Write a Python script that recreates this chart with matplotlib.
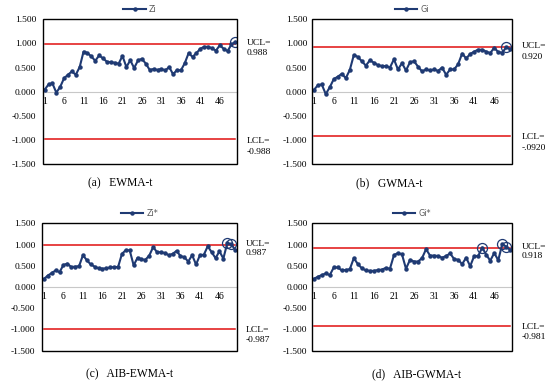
import matplotlib
matplotlib.use("Agg")
import matplotlib.pyplot as plt
from matplotlib.patches import Rectangle

plt.rcParams['axes.unicode_minus'] = False

samples = list(range(1, 51))
xtick_labels = ['1', '6', '11', '16', '21', '26', '31', '36', '41', '46']
ytick_values = [-1.5, -1.0, -0.5, 0.0, 0.5, 1.0, 1.5]
ytick_labels = ['-1.500', '-1.000', '-0.500', '0.000', '0.500', '1.000', '1.500']

zi = [0.04, 0.15, 0.17, -0.02, 0.10, 0.28, 0.35, 0.42, 0.35, 0.51,
      0.83, 0.80, 0.73, 0.64, 0.75, 0.69, 0.62, 0.61, 0.60, 0.58,
      0.74, 0.51, 0.65, 0.49, 0.65, 0.68, 0.58, 0.45, 0.47, 0.45,
      0.47, 0.44, 0.51, 0.36, 0.45, 0.44, 0.59, 0.80, 0.72, 0.80,
      0.89, 0.93, 0.93, 0.90, 0.85, 0.96, 0.89, 0.84, 0.98, 1.03]
gi = [0.03, 0.13, 0.15, -0.05, 0.09, 0.26, 0.31, 0.37, 0.28, 0.45,
      0.76, 0.72, 0.63, 0.54, 0.65, 0.60, 0.55, 0.53, 0.53, 0.50,
      0.67, 0.46, 0.59, 0.44, 0.61, 0.63, 0.52, 0.42, 0.46, 0.44,
      0.46, 0.43, 0.50, 0.35, 0.46, 0.46, 0.57, 0.79, 0.69, 0.78,
      0.83, 0.87, 0.87, 0.83, 0.80, 0.91, 0.82, 0.81, 0.92, 0.88]
zi_star = [0.19, 0.27, 0.33, 0.39, 0.35, 0.52, 0.55, 0.47, 0.48, 0.49,
           0.75, 0.63, 0.53, 0.48, 0.44, 0.43, 0.44, 0.46, 0.47, 0.47,
           0.78, 0.87, 0.86, 0.51, 0.69, 0.65, 0.64, 0.74, 0.94, 0.82,
           0.82, 0.80, 0.75, 0.78, 0.85, 0.73, 0.70, 0.60, 0.75, 0.53,
           0.75, 0.76, 0.96, 0.82, 0.68, 0.84, 0.67, 1.03, 1.01, 0.88]
gi_star = [0.19, 0.24, 0.28, 0.32, 0.28, 0.46, 0.46, 0.39, 0.40, 0.42,
           0.68, 0.54, 0.44, 0.39, 0.38, 0.38, 0.40, 0.41, 0.45, 0.43,
           0.75, 0.80, 0.77, 0.43, 0.64, 0.60, 0.60, 0.68, 0.89, 0.74,
           0.74, 0.73, 0.69, 0.73, 0.79, 0.66, 0.64, 0.54, 0.69, 0.49,
           0.73, 0.73, 0.93, 0.76, 0.62, 0.80, 0.63, 1.01, 0.95, 0.87]

series_names = ['Zi', 'Gi', 'Zi*', 'Gi*']
ucl_values = [0.988, 0.920, 0.987, 0.918]
ucl_texts = ['0.988', '0.920', '0.987', '0.918']
lcl_texts = ['-0.988', '-.0920', '-0.987', '-0.981']
circled = [[50], [49], [48, 49], [43, 48, 49]]
captions = ['(a)   EWMA-t', '(b)   GWMA-t', '(c)   AIB-EWMA-t', '(d)   AIB-GWMA-t']

W, H = 550, 384
fig = plt.figure(figsize=(W / 100, H / 100), dpi=100)
fig.patch.set_facecolor('white')

# axes pixel boxes: left, right, top, bottom
boxes = [(42.7, 237.3, 19.3, 164.0), (311.7, 512.3, 19.3, 164.0),
         (42.0, 237.0, 223.3, 350.7), (311.7, 512.3, 223.3, 350.7)]
ypads = [4.6, 3.2, 4.6, 3.0]
caption_pos = [(88, 183), (356, 183), (86, 374), (372, 374)]

navy = '#1F3A73'
red = '#E01010'
serif = 'Liberation Serif'
tfs = 6.8

all_series = [zi, gi, zi_star, gi_star]

for k in range(4):
    l, r, t, b = boxes[k]
    ax = fig.add_axes([l / W, 1 - b / H, (r - l) / W, (b - t) / H])
    for s in ['top', 'right', 'left']:
        ax.spines[s].set_visible(False)
    ax.spines['bottom'].set_position(('data', 0))
    ax.spines['bottom'].set_color('#C8C8C8')
    ax.spines['bottom'].set_linewidth(0.8)

    vals = all_series[k]
    ax.plot(samples, vals, color=navy, lw=1.5, marker='o', ms=2.2,
            label=series_names[k], zorder=3)
    ucl = ucl_values[k]
    ax.plot([samples[0], samples[-1]], [ucl, ucl], color=red, lw=1.1, zorder=2)
    ax.plot([samples[0], samples[-1]], [-ucl, -ucl], color=red, lw=1.1, zorder=2)
    for c in circled[k]:
        ax.plot([samples[c - 1]], [vals[c - 1]], marker='o', ms=7.2, mfc='none',
                mec=navy, mew=0.9, ls='none', zorder=4)
    ax.set_xlim(0.5, 50.5)
    ax.set_ylim(-1.5, 1.5)
    ax.set_yticks(ytick_values)
    ax.set_yticklabels(ytick_labels, family=serif, fontsize=tfs)
    ax.set_xticks([int(s) for s in xtick_labels])
    ax.set_xticklabels(xtick_labels, family=serif, fontsize=7)
    ax.tick_params(axis='y', length=0, pad=ypads[k])
    ax.tick_params(axis='x', length=0, pad=3.5)
    ax.add_patch(Rectangle((0, 0), 1, 1, transform=ax.transAxes, fill=False,
                           ec='black', lw=1.0, clip_on=False, zorder=5))
    hpx = b - t
    leg = ax.legend(loc='center', bbox_to_anchor=(0.5, 1 + 9.5 / hpx),
                    frameon=False, prop={'family': 'DejaVu Sans', 'size': 5.8},
                    handlelength=2.8, handletextpad=0.4, borderpad=0, borderaxespad=0)
    for txt in leg.get_texts():
        txt.set_color('#595959')
    # UCL / LCL labels
    tr = ax.get_yaxis_transform()
    lsp = 7.8 if k < 2 else 7.0
    ax.annotate('UCL=', xy=(1, ucl), xycoords=tr, xytext=(6.5, 1), textcoords='offset points',
                ha='left', va='center', family=serif, fontsize=tfs, annotation_clip=False)
    ax.annotate(ucl_texts[k], xy=(1, ucl), xycoords=tr, xytext=(6.5, 1 - lsp),
                textcoords='offset points', ha='left', va='center', family=serif,
                fontsize=tfs, annotation_clip=False)
    ax.annotate('LCL=', xy=(1, -ucl), xycoords=tr, xytext=(6.5, -1), textcoords='offset points',
                ha='left', va='center', family=serif, fontsize=tfs, annotation_clip=False)
    ax.annotate(lcl_texts[k], xy=(1, -ucl), xycoords=tr, xytext=(6.5, -1 - lsp),
                textcoords='offset points', ha='left', va='center', family=serif,
                fontsize=tfs, annotation_clip=False)
    cx, cy = caption_pos[k]
    fig.text(cx / W, 1 - cy / H, captions[k], ha='left', va='center',
             family=serif, fontsize=8.3)

fig.savefig('out.png', dpi=100, facecolor='white')
